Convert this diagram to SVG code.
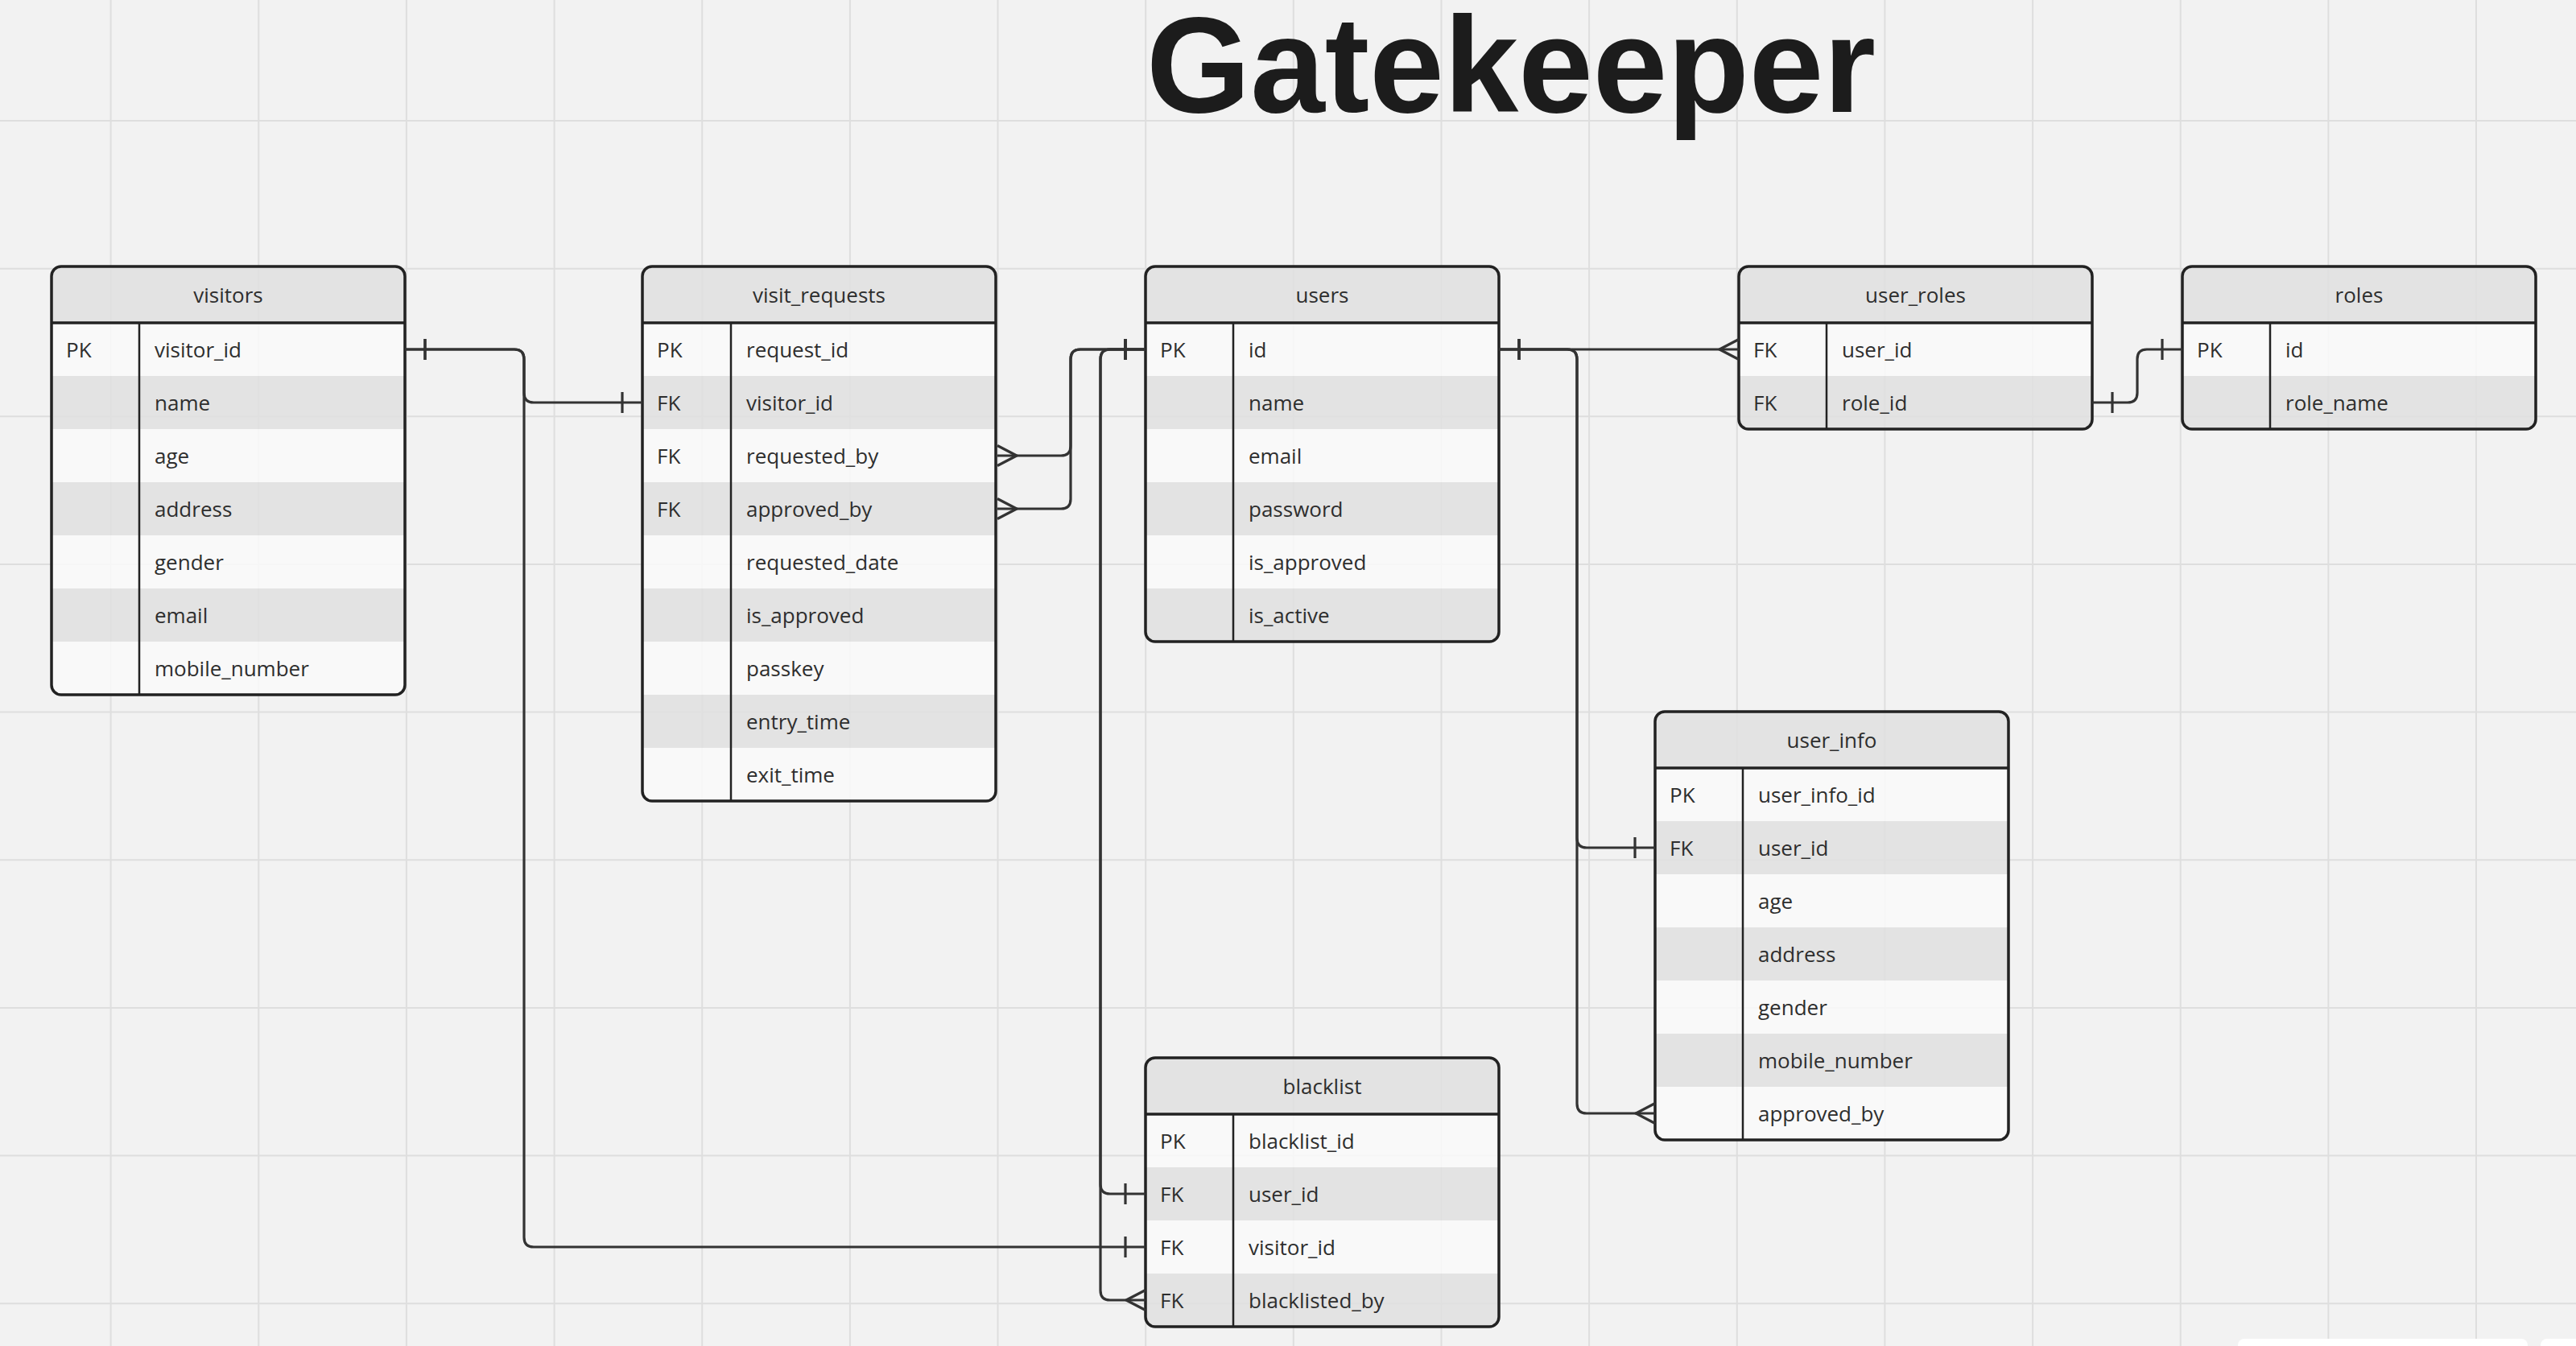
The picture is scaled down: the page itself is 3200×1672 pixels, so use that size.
<svg xmlns="http://www.w3.org/2000/svg" width="3200" height="1672" viewBox="0 0 3200 1672">
<style>
.grid{stroke:#dedede;stroke-width:2;fill:none}
.hdr{fill:#e0e0e0;fill-opacity:0.88}
.r0{fill:#fafafa;fill-opacity:0.85}
.r1{fill:#e0e0e0;fill-opacity:0.88}
.box{fill:none;stroke:#222;stroke-width:3.5}
.sep{stroke:#222;stroke-width:3.5}
.div{stroke:#222;stroke-width:2.5}
.t{font-family:"Open Sans","Noto Sans","DejaVu Sans",sans-serif;font-size:26px;fill:#2e2e2e}
.th{font-family:"Open Sans","Noto Sans","DejaVu Sans",sans-serif;font-size:26px;fill:#2e2e2e;text-anchor:middle}
.title{font-family:"Liberation Sans",Arial,sans-serif;font-weight:bold;font-size:169px;fill:#1c1c1c}
.c{fill:none;stroke:#333;stroke-width:3.2;stroke-linejoin:round}
.m{fill:none;stroke:#333;stroke-width:3.2;stroke-linejoin:round}
</style>
<defs>
<marker id="one" markerUnits="userSpaceOnUse" orient="auto-start-reverse" refX="0" refY="0" markerWidth="80" markerHeight="80" overflow="visible">
<path class="m" d="M-25,-13 V13"/>
</marker>
<marker id="many" markerUnits="userSpaceOnUse" orient="auto-start-reverse" refX="0" refY="0" markerWidth="80" markerHeight="80" overflow="visible">
<path class="m" d="M0,-12.5 L-24,0 L0,12.5"/>
</marker>
<clipPath id="cp-visitors"><rect x="64" y="331" width="439" height="532" rx="12"/></clipPath>
<clipPath id="cp-visit_requests"><rect x="798" y="331" width="439" height="664" rx="12"/></clipPath>
<clipPath id="cp-users"><rect x="1423" y="331" width="439" height="466" rx="12"/></clipPath>
<clipPath id="cp-user_roles"><rect x="2160" y="331" width="439" height="202" rx="12"/></clipPath>
<clipPath id="cp-roles"><rect x="2711" y="331" width="439" height="202" rx="12"/></clipPath>
<clipPath id="cp-user_info"><rect x="2056" y="884" width="439" height="532" rx="12"/></clipPath>
<clipPath id="cp-blacklist"><rect x="1423" y="1314" width="439" height="334" rx="12"/></clipPath>
</defs>

<rect x="0" y="0" width="3200" height="1672" fill="#f2f2f2"/>
<g id="grid">
<path class="grid" d="M137.6,0V1672M321.3,0V1672M504.9,0V1672M688.6,0V1672M872.2,0V1672M1055.9,0V1672M1239.5,0V1672M1423.2,0V1672M1606.8,0V1672M1790.5,0V1672M1974.1,0V1672M2157.8,0V1672M2341.4,0V1672M2525.1,0V1672M2708.7,0V1672M2892.4,0V1672M3076,0V1672"/>
<path class="grid" d="M0,150H3200M0,333.7H3200M0,517.3H3200M0,701H3200M0,884.6H3200M0,1068.3H3200M0,1251.9H3200M0,1435.6H3200M0,1619.2H3200"/>
</g>

<text id="title" class="title" x="1424" y="139" textLength="906" lengthAdjust="spacingAndGlyphs">Gatekeeper</text>

<g id="visitors">
<g clip-path="url(#cp-visitors)">
<rect class="hdr" x="64" y="331" width="439" height="70"/>
<rect class="r0" x="64" y="401" width="439" height="66"/>
<rect class="r1" x="64" y="467" width="439" height="66"/>
<rect class="r0" x="64" y="533" width="439" height="66"/>
<rect class="r1" x="64" y="599" width="439" height="66"/>
<rect class="r0" x="64" y="665" width="439" height="66"/>
<rect class="r1" x="64" y="731" width="439" height="66"/>
<rect class="r0" x="64" y="797" width="439" height="66"/>
</g>
<line class="sep" x1="64" y1="401" x2="503" y2="401"/>
<line class="div" x1="173" y1="401" x2="173" y2="863"/>
<rect class="box" x="64" y="331" width="439" height="532" rx="12"/>
<text class="th" x="283.5" y="375.5">visitors</text>
<text class="t" x="82" y="443.5">PK</text>
<text class="t" x="192" y="443.5">visitor_id</text>
<text class="t" x="192" y="509.5">name</text>
<text class="t" x="192" y="575.5">age</text>
<text class="t" x="192" y="641.5">address</text>
<text class="t" x="192" y="707.5">gender</text>
<text class="t" x="192" y="773.5">email</text>
<text class="t" x="192" y="839.5">mobile_number</text>
</g>

<g id="visit_requests">
<g clip-path="url(#cp-visit_requests)">
<rect class="hdr" x="798" y="331" width="439" height="70"/>
<rect class="r0" x="798" y="401" width="439" height="66"/>
<rect class="r1" x="798" y="467" width="439" height="66"/>
<rect class="r0" x="798" y="533" width="439" height="66"/>
<rect class="r1" x="798" y="599" width="439" height="66"/>
<rect class="r0" x="798" y="665" width="439" height="66"/>
<rect class="r1" x="798" y="731" width="439" height="66"/>
<rect class="r0" x="798" y="797" width="439" height="66"/>
<rect class="r1" x="798" y="863" width="439" height="66"/>
<rect class="r0" x="798" y="929" width="439" height="66"/>
</g>
<line class="sep" x1="798" y1="401" x2="1237" y2="401"/>
<line class="div" x1="908" y1="401" x2="908" y2="995"/>
<rect class="box" x="798" y="331" width="439" height="664" rx="12"/>
<text class="th" x="1017.5" y="375.5">visit_requests</text>
<text class="t" x="816" y="443.5">PK</text>
<text class="t" x="816" y="509.5">FK</text>
<text class="t" x="816" y="575.5">FK</text>
<text class="t" x="816" y="641.5">FK</text>
<text class="t" x="927" y="443.5">request_id</text>
<text class="t" x="927" y="509.5">visitor_id</text>
<text class="t" x="927" y="575.5">requested_by</text>
<text class="t" x="927" y="641.5">approved_by</text>
<text class="t" x="927" y="707.5">requested_date</text>
<text class="t" x="927" y="773.5">is_approved</text>
<text class="t" x="927" y="839.5">passkey</text>
<text class="t" x="927" y="905.5">entry_time</text>
<text class="t" x="927" y="971.5">exit_time</text>
</g>

<g id="users">
<g clip-path="url(#cp-users)">
<rect class="hdr" x="1423" y="331" width="439" height="70"/>
<rect class="r0" x="1423" y="401" width="439" height="66"/>
<rect class="r1" x="1423" y="467" width="439" height="66"/>
<rect class="r0" x="1423" y="533" width="439" height="66"/>
<rect class="r1" x="1423" y="599" width="439" height="66"/>
<rect class="r0" x="1423" y="665" width="439" height="66"/>
<rect class="r1" x="1423" y="731" width="439" height="66"/>
</g>
<line class="sep" x1="1423" y1="401" x2="1862" y2="401"/>
<line class="div" x1="1532" y1="401" x2="1532" y2="797"/>
<rect class="box" x="1423" y="331" width="439" height="466" rx="12"/>
<text class="th" x="1642.5" y="375.5">users</text>
<text class="t" x="1441" y="443.5">PK</text>
<text class="t" x="1551" y="443.5">id</text>
<text class="t" x="1551" y="509.5">name</text>
<text class="t" x="1551" y="575.5">email</text>
<text class="t" x="1551" y="641.5">password</text>
<text class="t" x="1551" y="707.5">is_approved</text>
<text class="t" x="1551" y="773.5">is_active</text>
</g>

<g id="user_roles">
<g clip-path="url(#cp-user_roles)">
<rect class="hdr" x="2160" y="331" width="439" height="70"/>
<rect class="r0" x="2160" y="401" width="439" height="66"/>
<rect class="r1" x="2160" y="467" width="439" height="66"/>
</g>
<line class="sep" x1="2160" y1="401" x2="2599" y2="401"/>
<line class="div" x1="2269" y1="401" x2="2269" y2="533"/>
<rect class="box" x="2160" y="331" width="439" height="202" rx="12"/>
<text class="th" x="2379.5" y="375.5">user_roles</text>
<text class="t" x="2178" y="443.5">FK</text>
<text class="t" x="2178" y="509.5">FK</text>
<text class="t" x="2288" y="443.5">user_id</text>
<text class="t" x="2288" y="509.5">role_id</text>
</g>

<g id="roles">
<g clip-path="url(#cp-roles)">
<rect class="hdr" x="2711" y="331" width="439" height="70"/>
<rect class="r0" x="2711" y="401" width="439" height="66"/>
<rect class="r1" x="2711" y="467" width="439" height="66"/>
</g>
<line class="sep" x1="2711" y1="401" x2="3150" y2="401"/>
<line class="div" x1="2820" y1="401" x2="2820" y2="533"/>
<rect class="box" x="2711" y="331" width="439" height="202" rx="12"/>
<text class="th" x="2930.5" y="375.5">roles</text>
<text class="t" x="2729" y="443.5">PK</text>
<text class="t" x="2839" y="443.5">id</text>
<text class="t" x="2839" y="509.5">role_name</text>
</g>

<g id="user_info">
<g clip-path="url(#cp-user_info)">
<rect class="hdr" x="2056" y="884" width="439" height="70"/>
<rect class="r0" x="2056" y="954" width="439" height="66"/>
<rect class="r1" x="2056" y="1020" width="439" height="66"/>
<rect class="r0" x="2056" y="1086" width="439" height="66"/>
<rect class="r1" x="2056" y="1152" width="439" height="66"/>
<rect class="r0" x="2056" y="1218" width="439" height="66"/>
<rect class="r1" x="2056" y="1284" width="439" height="66"/>
<rect class="r0" x="2056" y="1350" width="439" height="66"/>
</g>
<line class="sep" x1="2056" y1="954" x2="2495" y2="954"/>
<line class="div" x1="2165" y1="954" x2="2165" y2="1416"/>
<rect class="box" x="2056" y="884" width="439" height="532" rx="12"/>
<text class="th" x="2275.5" y="928.5">user_info</text>
<text class="t" x="2074" y="996.5">PK</text>
<text class="t" x="2074" y="1062.5">FK</text>
<text class="t" x="2184" y="996.5">user_info_id</text>
<text class="t" x="2184" y="1062.5">user_id</text>
<text class="t" x="2184" y="1128.5">age</text>
<text class="t" x="2184" y="1194.5">address</text>
<text class="t" x="2184" y="1260.5">gender</text>
<text class="t" x="2184" y="1326.5">mobile_number</text>
<text class="t" x="2184" y="1392.5">approved_by</text>
</g>

<g id="blacklist">
<g clip-path="url(#cp-blacklist)">
<rect class="hdr" x="1423" y="1314" width="439" height="70"/>
<rect class="r0" x="1423" y="1384" width="439" height="66"/>
<rect class="r1" x="1423" y="1450" width="439" height="66"/>
<rect class="r0" x="1423" y="1516" width="439" height="66"/>
<rect class="r1" x="1423" y="1582" width="439" height="66"/>
</g>
<line class="sep" x1="1423" y1="1384" x2="1862" y2="1384"/>
<line class="div" x1="1532" y1="1384" x2="1532" y2="1648"/>
<rect class="box" x="1423" y="1314" width="439" height="334" rx="12"/>
<text class="th" x="1642.5" y="1358.5">blacklist</text>
<text class="t" x="1441" y="1426.5">PK</text>
<text class="t" x="1441" y="1492.5">FK</text>
<text class="t" x="1441" y="1558.5">FK</text>
<text class="t" x="1441" y="1624.5">FK</text>
<text class="t" x="1551" y="1426.5">blacklist_id</text>
<text class="t" x="1551" y="1492.5">user_id</text>
<text class="t" x="1551" y="1558.5">visitor_id</text>
<text class="t" x="1551" y="1624.5">blacklisted_by</text>
</g>

<g id="connectors">
<path class="c" marker-start="url(#one)" marker-end="url(#one)" d="M503,434 H639 Q651,434 651,446 V488 Q651,500 663,500 H798"/>
<path class="c" marker-start="url(#one)" marker-end="url(#one)" d="M503,434 H639 Q651,434 651,446 V1537 Q651,1549 663,1549 H1423"/>
<path class="c" marker-start="url(#one)" marker-end="url(#many)" d="M1423,434 H1342 Q1330,434 1330,446 V554 Q1330,566 1318,566 H1239"/>
<path class="c" marker-start="url(#one)" marker-end="url(#many)" d="M1423,434 H1342 Q1330,434 1330,446 V620 Q1330,632 1318,632 H1239"/>
<path class="c" marker-start="url(#one)" marker-end="url(#one)" d="M1423,434 H1379 Q1367,434 1367,446 V1471 Q1367,1483 1379,1483 H1423"/>
<path class="c" marker-start="url(#one)" marker-end="url(#many)" d="M1423,434 H1379 Q1367,434 1367,446 V1603 Q1367,1615 1379,1615 H1423"/>
<path class="c" marker-start="url(#one)" marker-end="url(#many)" d="M1862,434 H2160"/>
<path class="c" marker-start="url(#one)" marker-end="url(#one)" d="M1862,434 H1947 Q1959,434 1959,446 V1041 Q1959,1053 1971,1053 H2056"/>
<path class="c" marker-start="url(#one)" marker-end="url(#many)" d="M1862,434 H1947 Q1959,434 1959,446 V1371 Q1959,1383 1971,1383 H2056"/>
<path class="c" marker-start="url(#one)" marker-end="url(#one)" d="M2599,500 H2643 Q2655,500 2655,488 V446 Q2655,434 2667,434 H2711"/>
</g>

<g id="ui-widgets">
<rect x="2780" y="1663" width="360" height="30" rx="8" fill="#ffffff"/>
<rect x="3156" y="1663" width="60" height="30" rx="8" fill="#ffffff"/>
</g>
</svg>
